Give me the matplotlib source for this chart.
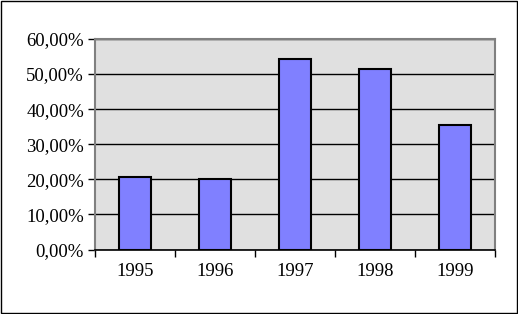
import matplotlib
matplotlib.use("Agg")
import matplotlib.pyplot as plt
from matplotlib.patches import Rectangle
from matplotlib.ticker import FuncFormatter, MultipleLocator

years = ["1995", "1996", "1997", "1998", "1999"]
values = [20.7, 20.1, 54.4, 51.5, 35.5]

W, H = 518, 314
fig = plt.figure(figsize=(W / 100, H / 100), dpi=100)
plt.rcParams['font.family'] = ['Liberation Serif', 'DejaVu Serif']

left, right, top, bottom = 95, 495, 39, 249.5
ax = fig.add_axes([left / W, 1 - bottom / H, (right - left) / W, (bottom - top) / H])
ax.set_facecolor("#E0E0E0")

x = range(len(years))
ax.bar(x, values, width=0.4, color="#8080FF", edgecolor="black", linewidth=1.5, zorder=3)

ax.set_xlim(-0.5, len(years) - 0.5)
ax.set_ylim(0, 60)
ax.yaxis.set_major_locator(MultipleLocator(10))
ax.yaxis.set_major_formatter(FuncFormatter(lambda v, p: f"{v:.2f}".replace(".", ",") + "%"))
ax.grid(axis="y", color="black", linewidth=1, zorder=1)
ax.set_axisbelow(True)

ax.set_xticks(list(x))
ax.set_xticklabels(years)
ax.set_xticks([i + 0.5 for i in range(-1, len(years))], minor=True)
ax.tick_params(axis="x", which="major", length=0, pad=10, labelsize=13.5)
ax.tick_params(axis="x", which="minor", length=5, width=1, color="black", direction="out")
ax.tick_params(axis="y", length=5, width=1, color="black", direction="out", pad=3, labelsize=13.5)

for s in ["top", "right"]:
    ax.spines[s].set_color("#808080")
    ax.spines[s].set_linewidth(1.5)
ax.spines["left"].set_color("#808080")
ax.spines["left"].set_linewidth(1.5)
ax.spines["bottom"].set_color("black")
ax.spines["bottom"].set_linewidth(1.2)

fig.patches.append(Rectangle((0.5 / W, 1.5 / H), 516 / W, 312 / H, transform=fig.transFigure,
                             fill=False, edgecolor="black", linewidth=1))

fig.savefig("out.png", dpi=100)
